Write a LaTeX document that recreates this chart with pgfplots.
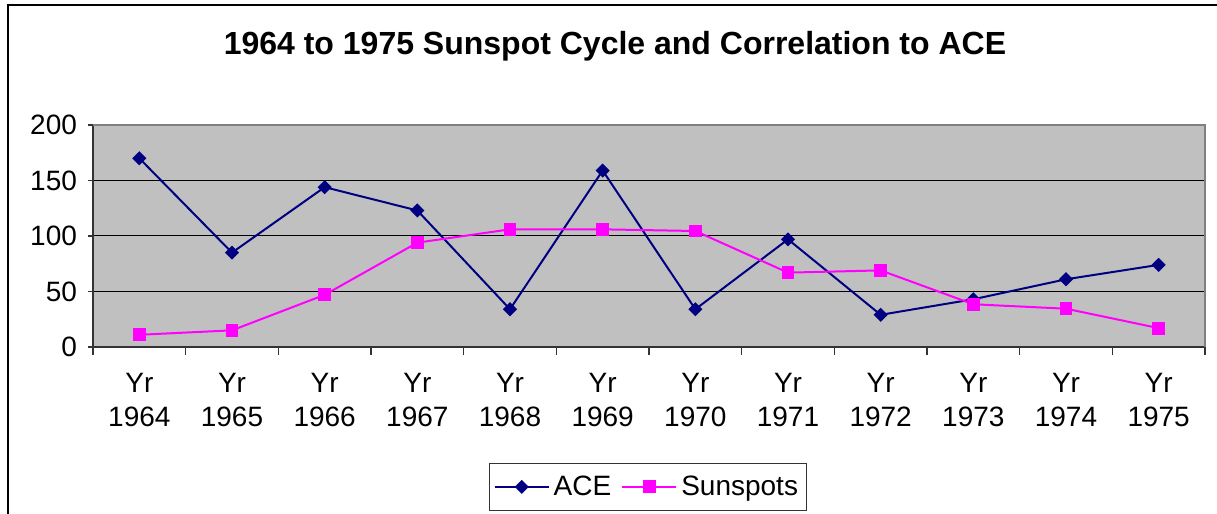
\documentclass[border=0pt]{standalone}
\usepackage{pgfplots}
\pgfplotsset{compat=1.18}
\usepackage{fontspec}
\setmainfont{Liberation Sans}
\definecolor{acecol}{RGB}{0,0,128}
\definecolor{sunscol}{RGB}{255,0,255}
\definecolor{plotbg}{RGB}{192,192,192}

\pgfplotstableread{
x ace sun
0 170 11
1 85 15
2 144 47
3 123 94
4 34 106
5 159 106
6 34 104.5
7 97 67
8 29 69
9 43 38.5
10 61 34.5
11 74 17
}\sundata

\begin{document}
\begin{tikzpicture}
\useasboundingbox (0,0) rectangle (608.5pt,257pt);
\draw[line width=1pt] (4pt,0) -- (4pt,254.5pt) -- (608.5pt,254.5pt);
\node[font=\bfseries\fontsize{16}{19}\selectfont] at (307.5pt,234pt) {1964 to 1975 Sunspot Cycle and Correlation to ACE};
\begin{axis}[at={(46.5pt,83.5pt)}, anchor=south west, scale only axis,
  width=556pt, height=111pt,
  xmin=-0.5, xmax=11.5, ymin=0, ymax=200,
  xtick={0,...,11},
  xticklabels={Yr\\1964,Yr\\1965,Yr\\1966,Yr\\1967,Yr\\1968,Yr\\1969,Yr\\1970,Yr\\1971,Yr\\1972,Yr\\1973,Yr\\1974,Yr\\1975},
  minor xtick={-0.5,0.5,...,11.5},
  ytick={0,50,...,200},
  tick align=outside,
  major tick length=2.5pt, minor tick length=4pt,
  major x tick style={draw=none},
  tick style={black!80, line width=0.6pt},
  axis x line*=bottom, axis y line*=left,
  axis line style={black!80, line width=0.8pt, -},
  axis background/.style={fill=plotbg},
  ymajorgrids, major grid style={black, line width=0.5pt},
  ticklabel style={font=\fontsize{14}{17}\selectfont},
  xticklabel style={align=center, yshift=-7pt},
  yticklabel style={xshift=-2pt},
  /pgf/number format/assume math mode=true,
  legend style={at={(0.499,-0.63)}, anchor=center, legend columns=2, draw=black!80,
    font=\fontsize{14}{17}\selectfont, inner xsep=2pt, inner ysep=4pt,
    /tikz/every even column/.append style={column sep=3pt}},
  legend image code/.code={\draw[mark repeat=2,mark phase=2] plot coordinates {(0pt,0pt) (13.5pt,0pt) (27pt,0pt)};},
  after end axis/.code={\draw[gray, line width=0.8pt] (rel axis cs:0,1) -- (rel axis cs:1,1) -- (rel axis cs:1,0);},
]
\addplot[acecol, line width=1pt, mark=square*, mark size=2pt, mark options={rotate=45, solid}] table[x=x, y=ace] {\sundata};
\addlegendentry{ACE}
\addplot[sunscol, line width=1pt, mark=square*, mark size=2.7pt, mark options={solid}] table[x=x, y=sun] {\sundata};
\addlegendentry{Sunspots}
\end{axis}
\end{tikzpicture}
\end{document}
